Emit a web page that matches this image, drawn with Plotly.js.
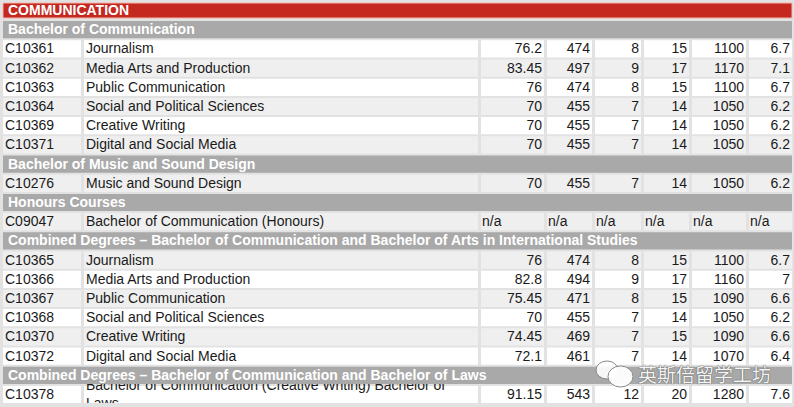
<!DOCTYPE html>
<html>
<head>
<meta charset="utf-8">
<script src="https://cdn.plot.ly/plotly-3.0.1.min.js"></script>
<style>
  html, body { margin: 0; padding: 0; background: #e2e2e2; }
  #plotArea { width: 794px; height: 407px; }
</style>
</head>
<body>
<div id="plotArea"></div>
<script>
// table content
var sectionTitle = "COMMUNICATION";
var groupTitles = [
    "Bachelor of Communication",
    "Bachelor of Music and Sound Design",
    "Honours Courses",
    "Combined Degrees \u2013 Bachelor of Communication and Bachelor of Arts in International Studies",
    "Combined Degrees \u2013 Bachelor of Communication and Bachelor of Laws"
];
var courseGroup = [0, 0, 0, 0, 0, 0, 1, 2, 3, 3, 3, 3, 3, 3, 4];
var codes = ["C10361", "C10362", "C10363", "C10364", "C10369", "C10371", "C10276", "C09047",
    "C10365", "C10366", "C10367", "C10368", "C10370", "C10372", "C10378"];
var names = ["Journalism", "Media Arts and Production", "Public Communication", "Social and Political Sciences",
    "Creative Writing", "Digital and Social Media", "Music and Sound Design", "Bachelor of Communication (Honours)",
    "Journalism", "Media Arts and Production", "Public Communication", "Social and Political Sciences",
    "Creative Writing", "Digital and Social Media",
    "Bachelor of Communication (Creative Writing) Bachelor of<br>Laws"];
var scoreA = [76.2, 83.45, 76, 70, 70, 70, 70, "n/a", 76, 82.8, 75.45, 70, 74.45, 72.1, 91.15];
var scoreB = [474, 497, 474, 455, 455, 455, 455, "n/a", 474, 494, 471, 455, 469, 461, 543];
var scoreC = [8, 9, 8, 7, 7, 7, 7, "n/a", 8, 9, 8, 7, 7, 7, 12];
var scoreD = [15, 17, 15, 14, 14, 14, 14, "n/a", 15, 17, 15, 14, 15, 14, 20];
var scoreE = [1100, 1170, 1100, 1050, 1050, 1050, 1050, "n/a", 1100, 1160, 1090, 1050, 1090, 1070, 1280];
var scoreF = [6.7, 7.1, 6.7, 6.2, 6.2, 6.2, 6.2, "n/a", 6.7, 7, 6.6, 6.2, 6.6, 6.4, 7.6];
var scoreCols = [scoreA, scoreB, scoreC, scoreD, scoreE, scoreF];

// column edges in pixels (x axis runs 0..794)
var colEdges = [[3, 81], [84, 478], [481, 544], [547, 592], [595, 641], [644, 689], [692, 746], [749, 792]];
var rowTop = 10.5, rowStep = 19.2, halfH = 8.6;
var font = "Liberation Sans, Arial, sans-serif";

// build the row list: title, group headers, courses
var rows = [{kind: "title", text: sectionTitle}];
groupTitles.forEach(function (g, gi) {
    rows.push({kind: "group", text: g});
    courseGroup.forEach(function (cg, ci) {
        if (cg === gi) rows.push({kind: "course", idx: ci});
    });
});

var shapes = [];
var annotations = [];
var courseY = [];
rows.forEach(function (r, i) {
    var yc = rowTop + rowStep * i;
    if (r.kind === "title") {
        shapes.push({type: "rect", layer: "above", x0: 3, x1: 792, y0: yc - 7.5, y1: yc + 7.5,
            fillcolor: "#c5281f", line: {color: "#f3b4ab", width: 1}});
    } else if (r.kind === "group") {
        shapes.push({type: "rect", layer: "above", x0: 3, x1: 792, y0: yc - halfH, y1: yc + halfH,
            fillcolor: "#a9a9a9", line: {width: 0}});
    } else {
        courseY[r.idx] = yc + 1;
        colEdges.forEach(function (e) {
            shapes.push({type: "rect", layer: "below", x0: e[0], x1: e[1], y0: yc - halfH, y1: yc + halfH,
                fillcolor: (i % 2 === 1) ? "#efefef" : "#ffffff", line: {width: 0}});
        });
    }
    if (r.kind !== "course") {
        annotations.push({x: 6, y: yc - 0.5, xref: "x", yref: "y", xanchor: "left", yanchor: "middle",
            text: "<b>" + r.text + "</b>", showarrow: false,
            font: {family: font, size: 14, color: "#ffffff"}});
    }
});

// watermark
shapes.push({type: "circle", layer: "above", x0: 596, x1: 618, y0: 361, y1: 379,
    fillcolor: "rgba(255,255,255,0.9)", line: {color: "#8a8a8a", width: 1}});
shapes.push({type: "circle", layer: "above", x0: 608, x1: 633, y0: 366, y1: 387,
    fillcolor: "rgba(255,255,255,0.95)", line: {color: "#8a8a8a", width: 1}});
annotations.push({x: 704, y: 373, xref: "x", yref: "y", xanchor: "center", yanchor: "middle",
    text: "英斯倍留学工坊", showarrow: false,
    font: {family: "Noto Sans CJK SC", size: 19, color: "rgba(255,255,255,0.95)",
        shadow: "0 0 1px #555, 0 0 1px #555"}});

function textTrace(xs, ys, texts, positions) {
    return {
        type: "scatter", mode: "text", x: xs, y: ys, text: texts,
        textposition: positions, cliponaxis: true, hoverinfo: "skip",
        textfont: {family: font, size: 14, color: "#1a1a1a"}, showlegend: false
    };
}

var traces = [];
traces.push(textTrace(codes.map(function () { return 5; }), courseY, codes, "middle right"));
traces.push(textTrace(names.map(function () { return 86; }), courseY, names, "middle right"));
scoreCols.forEach(function (col, k) {
    var e = colEdges[k + 2];
    traces.push(textTrace(
        col.map(function (v) { return v === "n/a" ? e[0] + 1 : e[1] - 2; }),
        courseY,
        col.map(String),
        col.map(function (v) { return v === "n/a" ? "middle right" : "middle left"; })
    ));
});

var layout = {
    width: 794, height: 407,
    margin: {l: 0, r: 0, t: 0, b: 4},
    paper_bgcolor: "#e2e2e2",
    plot_bgcolor: "#e2e2e2",
    xaxis: {range: [0, 794], visible: false, fixedrange: true},
    yaxis: {range: [403, 0], visible: false, fixedrange: true},
    shapes: shapes,
    annotations: annotations
};

Plotly.newPlot("plotArea", traces, layout, {staticPlot: true});
</script>
</body>
</html>
